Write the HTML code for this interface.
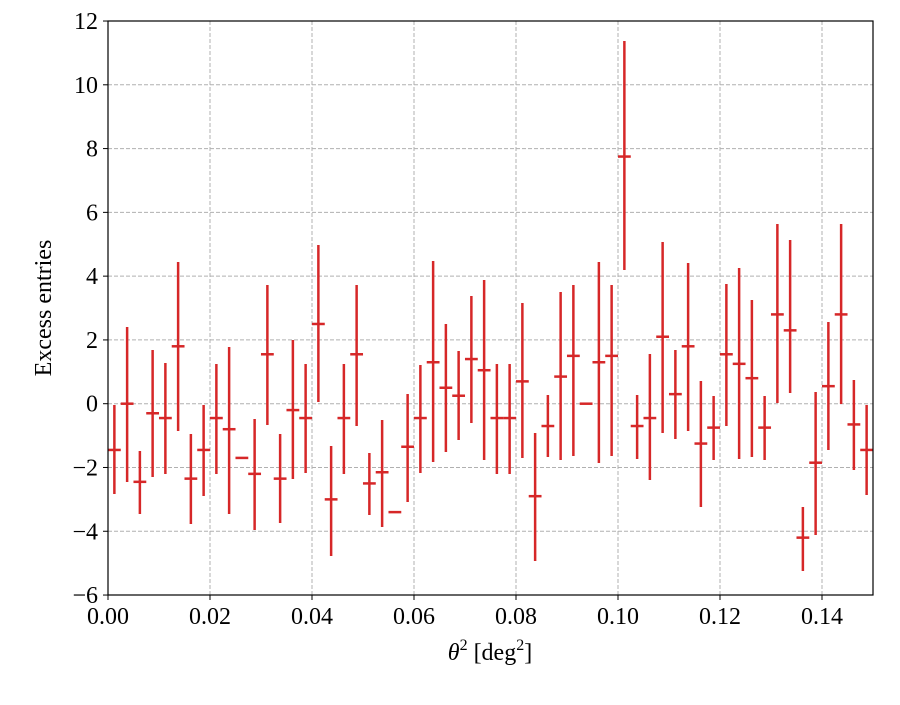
<!DOCTYPE html>
<html><head><meta charset="utf-8"><style>
html,body{margin:0;padding:0;background:#fff;}
svg text{font-family:"Liberation Serif","DejaVu Serif",serif;fill:#000;}
</style></head><body>
<svg id="s" width="900" height="700" xmlns="http://www.w3.org/2000/svg">
<rect width="900" height="700" fill="#fff"/>
<g id="grid" stroke="#b0b0b0" stroke-width="1" stroke-dasharray="4,2"></g>
<g id="data" stroke="#d62728" stroke-width="2.5"></g>
<rect x="108" y="21" width="765" height="574" fill="none" stroke="#000" stroke-width="1.2"/>
<g id="ticks" stroke="#000" stroke-width="1"></g>
<g id="labels" font-size="24"></g>
<text x="51" y="308" font-size="24" text-anchor="middle" transform="rotate(-90 51 308)">Excess entries</text>
<text x="490" y="660" font-size="24" text-anchor="middle"><tspan font-style="italic">θ</tspan><tspan font-size="16" dy="-10">2</tspan><tspan dy="10"> [deg</tspan><tspan font-size="16" dy="-10">2</tspan><tspan dy="10">]</tspan></text>
</svg>
<script>
var NS="http://www.w3.org/2000/svg";
function el(p,t,a,txt){var e=document.createElementNS(NS,t);for(var k in a)e.setAttribute(k,a[k]);if(txt!==undefined)e.textContent=txt;document.getElementById(p).appendChild(e);}
var y0=403.7,sy=31.89,x0=108,sx=5100;
for(var v=-6;v<=12;v+=2){var y=y0-v*sy;
 if(v>-6&&v<12)el("grid","line",{x1:108,x2:873,y1:y,y2:y});
 el("ticks","line",{x1:103,x2:108,y1:y,y2:y});
 el("labels","text",{x:98,y:y+8,"text-anchor":"end"},(v<0?"\u2212":"")+Math.abs(v));}
for(var i=0;i<=7;i++){var xv=i*0.02,x=x0+xv*sx;
 if(i>0)el("grid","line",{x1:x,x2:x,y1:21,y2:595});
 el("ticks","line",{x1:x,x2:x,y1:595,y2:600});
 el("labels","text",{x:x,y:624,"text-anchor":"middle"},xv.toFixed(2));}
var d=[[-1.45,405,494],[0,327,482],[-2.45,451,514],[-0.3,350,477],[-0.45,363,474],[1.8,262,431],[-2.35,434,524],[-1.45,405,496],[-0.45,364,474],[-0.8,347,514],[-1.7,458,458],[-2.2,419,530],[1.55,285,425],[-2.35,434,523],[-0.2,340,479],[-0.45,364,473],[2.5,245,402],[-3.0,446,556],[-0.45,364,474],[1.55,285,426],[-2.5,453,515],[-2.15,420,527],[-3.4,513,513],[-1.35,394,502],[-0.45,365,473],[1.3,261,462],[0.5,324,452],[0.25,351,440],[1.4,296,423],[1.05,280,460],[-0.45,364,474],[-0.45,364,474],[0.7,303,458],[-2.9,433,561],[-0.7,395,457],[0.85,292,460],[1.5,285,456],[0,404,404],[1.3,262,463],[1.5,285,456],[7.75,41,270],[-0.7,395,459],[-0.45,354,480],[2.1,242,433],[0.3,350,439],[1.8,263,431],[-1.25,381,507],[-0.75,396,460],[1.55,284,426],[1.25,268,459],[0.8,300,457],[-0.75,396,460],[2.8,224,403],[2.3,240,393],[-4.2,507,571],[-1.85,392,535],[0.55,322,450],[2.8,224,404],[-0.65,380,470],[-1.45,405,495]];
for(var j=0;j<d.length;j++){var cx=x0+(j+0.5)*12.75,yv=y0-d[j][0]*sy;
 if(d[j][2]>d[j][1])el("data","line",{x1:cx,x2:cx,y1:d[j][1],y2:d[j][2]});
 el("data","line",{x1:cx-6.4,x2:cx+6.4,y1:yv,y2:yv});}
</script>
</body></html>
